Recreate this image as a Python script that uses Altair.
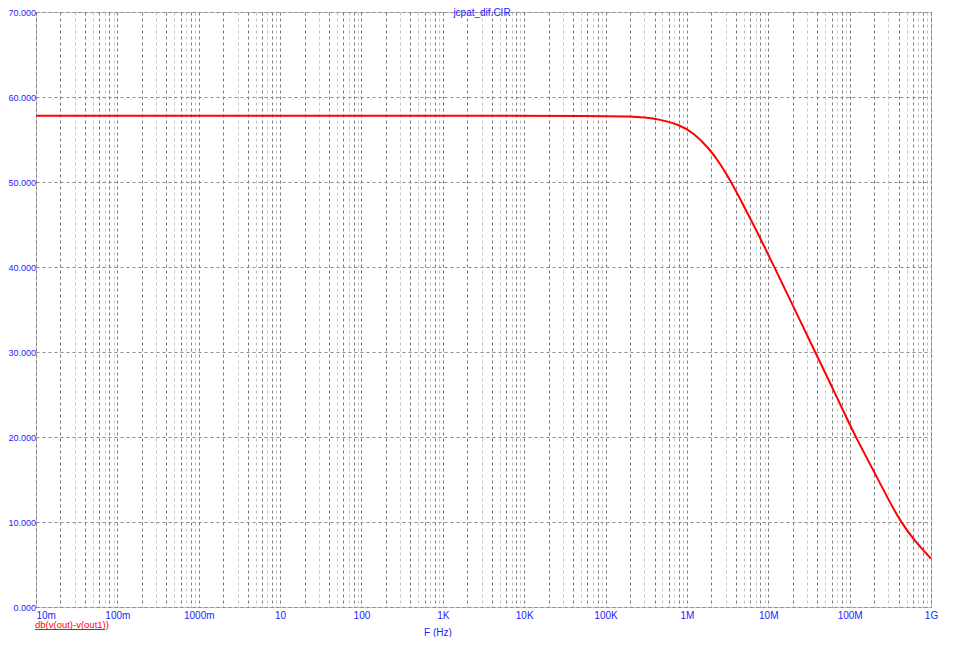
import json
import altair as alt
import pandas as pd

# ---- data ----
FREQ = [0.01, 1e3, 1e5, 2e5, 3e5, 4.6e5, 8e5, 1.2e6, 1.9e6, 2.6e6, 3.5e6, 5e6,
        7.8e6, 1.2e7, 2e7, 3.85e7, 6e7, 1e8, 1.19e8, 1.9e8, 3.05e8, 4.25e8,
        6.5e8, 1e9]
DB = [57.8, 57.8, 57.78, 57.72, 57.6, 57.37, 56.77, 55.8, 53.9, 52.06, 50.0, 47.2,
      43.6, 39.9, 35.5, 29.8, 26.0, 21.5, 20.0, 16.3, 12.5, 10.0,
      7.6, 5.7]
TICK_LABELS = ["10m", "100m", "1000m", "10", "100", "1K", "10K", "100K",
               "1M", "10M", "100M", "1G"]
Y_TICKS = [0, 10, 20, 30, 40, 50, 60, 70]
TITLE = "jcpat_dif.CIR"
TRACE = "db(v(out)-v(out1))"
XTITLE = "F (Hz)"

PAD_L = 28
W, H = 895, 595
BLUE = "#2222ff"
RED = "#ff0000"
FONT = "Liberation Sans"

grid_vals = [m * 10.0 ** e for e in range(-2, 9) for m in range(1, 10)] + [1e9]

label_expr = (
    "round(datum.value / pow(10, floor(log(datum.value)/LN10 + 1e-6))) == 1 ? "
    + json.dumps(TICK_LABELS)
    + "[floor(log(datum.value)/LN10 + 1e-6) + 2] : ''"
)
odd_test = ("indexof([3,5,7,9], round(datum.value / pow(10, "
            "floor(log(datum.value)/LN10 + 1e-6)))) >= 0")

df = pd.DataFrame({"f": FREQ, "db": DB})

x = alt.X(
    "f:Q",
    scale=alt.Scale(type="log", domain=[0.01, 1e9], nice=False, zero=False),
    axis=alt.Axis(
        values=grid_vals, labelExpr=label_expr, title=None, ticks=False,
        domain=False, grid=True, gridDash=[3, 3],
        gridColor={"condition": {"test": odd_test, "value": "#c4c4c4"}, "value": "#7a7a7a"},
        labelColor=BLUE, labelFont=FONT, labelFontSize=10, labelPadding=3,
        labelAlign={"condition": {"test": "datum.value <= 0.011", "value": "left"}, "value": "center"},
        labelOverlap=False, labelBound=False, labelFlush=False,
    ),
)
y = alt.Y(
    "db:Q",
    scale=alt.Scale(domain=[0, 70], nice=False, zero=False),
    axis=alt.Axis(
        values=Y_TICKS, format=".3f", title=None, ticks=False, domain=False,
        grid=True, gridDash=[3, 3], gridColor="#8a8a8a",
        labelColor=BLUE, labelFont=FONT, labelFontSize=9, labelPadding=0.5,
    ),
)

line = alt.Chart(df).mark_line(color=RED, strokeWidth=2, interpolate="basis").encode(x=x, y=y)

title = alt.Chart(pd.DataFrame({"t": [TITLE]})).mark_text(
    color=BLUE, font=FONT, fontSize=10, align="center", baseline="alphabetic"
).encode(text="t:N", x=alt.value(482 - 8 - PAD_L), y=alt.value(4))

xtitle = alt.Chart(pd.DataFrame({"t": [XTITLE]})).mark_text(
    color=BLUE, font=FONT, fontSize=10, align="center", baseline="alphabetic"
).encode(text="t:N", x=alt.value(438 - 8 - PAD_L), y=alt.value(624))

trace = alt.Chart(pd.DataFrame({"t": [TRACE]})).mark_text(
    color=RED, font=FONT, fontSize=9.5, align="left", baseline="alphabetic"
).encode(text="t:N", x=alt.value(35 - 8 - PAD_L), y=alt.value(616))

underline = alt.Chart(pd.DataFrame({"t": [TRACE]})).mark_rule(color=RED, strokeWidth=1).encode(
    x=alt.value(35 - 8 - PAD_L), x2=alt.value(105 - 8 - PAD_L), y=alt.value(617.5)
)

chart = alt.layer(line, title, xtitle, trace, underline).properties(
    width=W, height=H,
    autosize=alt.AutoSizeParams(type="none"),
    padding={"left": PAD_L, "top": 4, "right": 12, "bottom": 30},
).configure_view(
    stroke="#8c8c8c", strokeDash=[1, 1], strokeWidth=1
)

chart.save("out.html", embed_options={"renderer": "svg", "actions": False})
